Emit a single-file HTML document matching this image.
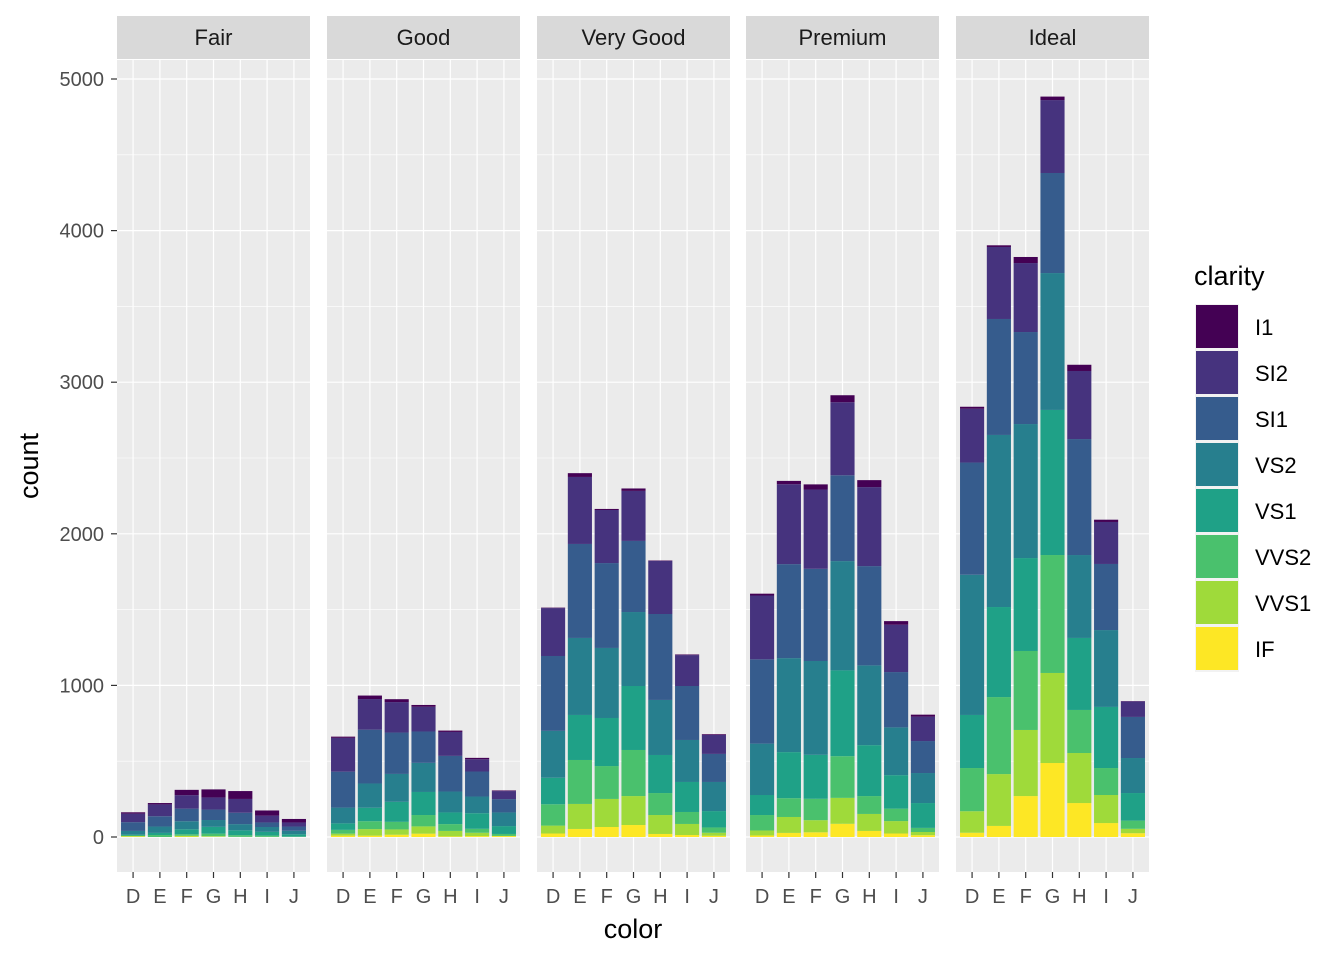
<!DOCTYPE html>
<html><head><meta charset="utf-8"><style>
body{margin:0;background:#fff;}
svg text{font-family:"Liberation Sans",sans-serif;}
</style></head><body>
<svg id="chart" width="1344" height="960" xmlns="http://www.w3.org/2000/svg"></svg>
<script>
const cuts = ["Fair","Good","Very Good","Premium","Ideal"];
const colors = ["D","E","F","G","H","I","J"];
const clarities = ["IF","VVS1","VVS2","VS1","VS2","SI1","SI2","I1"]; // bottom to top
const yTicks = [0,1000,2000,3000,4000,5000];
// counts[cut][color] = [IF,VVS1,VVS2,VS1,VS2,SI1,SI2,I1]
const fairCounts = [[3,3,4,5,25,58,56,9],[0,0,13,14,42,68,78,9],[3,5,10,33,53,83,89,35],[2,3,17,45,45,69,80,53],[0,1,11,32,41,75,91,52],[0,1,8,25,32,30,45,34],[0,1,1,16,23,28,27,23]];
const goodCounts = [[9,13,25,43,104,237,223,8],[9,43,52,89,160,355,202,23],[15,35,50,132,184,273,201,19],[22,48,75,152,192,207,163,12],[4,36,45,77,138,235,158,9],[6,22,26,103,110,165,81,9],[6,1,13,52,90,88,53,4]];
const veryGoodCounts = [[23,52,141,175,309,494,316,3],[53,165,290,297,508,620,442,25],[66,185,217,317,462,560,350,7],[79,191,304,422,488,469,330,16],[20,125,145,251,363,567,350,3],[13,73,79,198,277,356,204,4],[8,20,35,108,192,185,125,5]];
const premiumCounts = [[10,33,102,132,339,556,421,12],[27,105,124,304,620,620,527,22],[31,80,141,290,619,608,523,34],[87,171,275,566,721,566,482,46],[40,112,118,336,526,655,521,46],[23,82,82,221,315,365,312,24],[12,21,27,164,198,211,161,13]];
const idealCounts = [[28,142,285,350,925,740,355,13],[73,342,508,594,1135,765,475,11],[270,436,521,613,884,607,455,40],[488,594,778,957,903,660,481,23],[224,330,284,475,547,765,449,41],[92,185,178,403,507,436,277,15],[25,29,54,182,231,271,102,2]];
const allCounts = [fairCounts,goodCounts,veryGoodCounts,premiumCounts,idealCounts];
const fills = {I1:"#440154",SI2:"#46337E",SI1:"#365C8D",VS2:"#277F8E",VS1:"#1FA187",VVS2:"#4AC16D",VVS1:"#9FDA3A",IF:"#FDE725"};

const svg = document.getElementById('chart');
const NS = "http://www.w3.org/2000/svg";
function mk(tag, attrs, parent){const e=document.createElementNS(NS,tag);for(const k in attrs)e.setAttribute(k,attrs[k]);(parent||svg).appendChild(e);return e;}
const panelX = [117,327,537,746,956], panelW = 193, plotTop=60, plotBottom=872;
const yScale = v => 837 - v*(837-79)/5000;
const xc = (p,i) => panelX[p] + panelW*(0.6+i)/7.2;

cuts.forEach((cut,p)=>{
  const g = mk('g',{});
  
  
  mk('rect',{x:panelX[p],y:plotTop,width:panelW,height:plotBottom-plotTop,fill:'#EBEBEB'},g);
  for(let v=500; v<5200; v+=1000) mk('line',{x1:panelX[p],x2:panelX[p]+panelW,y1:yScale(v),y2:yScale(v),stroke:'#fff','stroke-width':0.6},g);
  yTicks.forEach(v=>mk('line',{x1:panelX[p],x2:panelX[p]+panelW,y1:yScale(v),y2:yScale(v),stroke:'#fff','stroke-width':1.2},g));
  colors.forEach((c,i)=>mk('line',{x1:xc(p,i),x2:xc(p,i),y1:plotTop,y2:plotBottom,stroke:'#fff','stroke-width':1.2},g));
  const strip = mk('rect',{x:panelX[p],y:16,width:panelW,height:43,fill:'#D9D9D9'},g);
  
  
  const st = mk('text',{x:panelX[p]+panelW/2,y:45,'text-anchor':'middle','font-size':22,fill:'#1A1A1A'},g);
  st.textContent = cut;
  
  
  colors.forEach((c,i)=>{
    let cum=0;
    const bw = panelW/7.2*0.9;
    allCounts[p][i].forEach((v,k)=>{
      const r = mk('rect',{x:xc(p,i)-bw/2,y:yScale(cum+v),width:bw,height:yScale(cum)-yScale(cum+v),fill:fills[clarities[k]]},g);
      
      
      cum+=v;
    });
    mk('line',{x1:xc(p,i),x2:xc(p,i),y1:plotBottom,y2:plotBottom+6,stroke:'#333','stroke-width':1.2},g);
    const t = mk('text',{x:xc(p,i),y:903,'text-anchor':'middle','font-size':20,fill:'#4D4D4D'},g);
    t.textContent=c;
    
    
  });
});
yTicks.forEach(v=>{
  mk('line',{x1:111,x2:117,y1:yScale(v),y2:yScale(v),stroke:'#333','stroke-width':1.2});
  const t = mk('text',{x:104,y:yScale(v)+7,'text-anchor':'end','font-size':20,fill:'#4D4D4D'});
  t.textContent=v;
  
  
});
const xt = mk('text',{x:633,y:938,'text-anchor':'middle','font-size':27,fill:'#000'});
xt.textContent='color';


const yt = mk('text',{x:38,y:466,'text-anchor':'middle','font-size':27,fill:'#000',transform:'rotate(-90 38 466)'});
yt.textContent='count';


const lt = mk('text',{x:1194,y:285,'font-size':27,fill:'#000'});
lt.textContent='clarity';


clarities.slice().reverse().forEach((c,k)=>{
  const ly = 304 + k*46;
  const r = mk('rect',{x:1195,y:ly,width:44,height:46,fill:'#F2F2F2'});
  mk('rect',{x:1196,y:ly+1,width:42,height:43,fill:fills[c]});
  
  
  const t = mk('text',{x:1255,y:ly+31,'font-size':22,fill:'#000'});
  t.textContent=c;
  
  
});
</script>
</body></html>
